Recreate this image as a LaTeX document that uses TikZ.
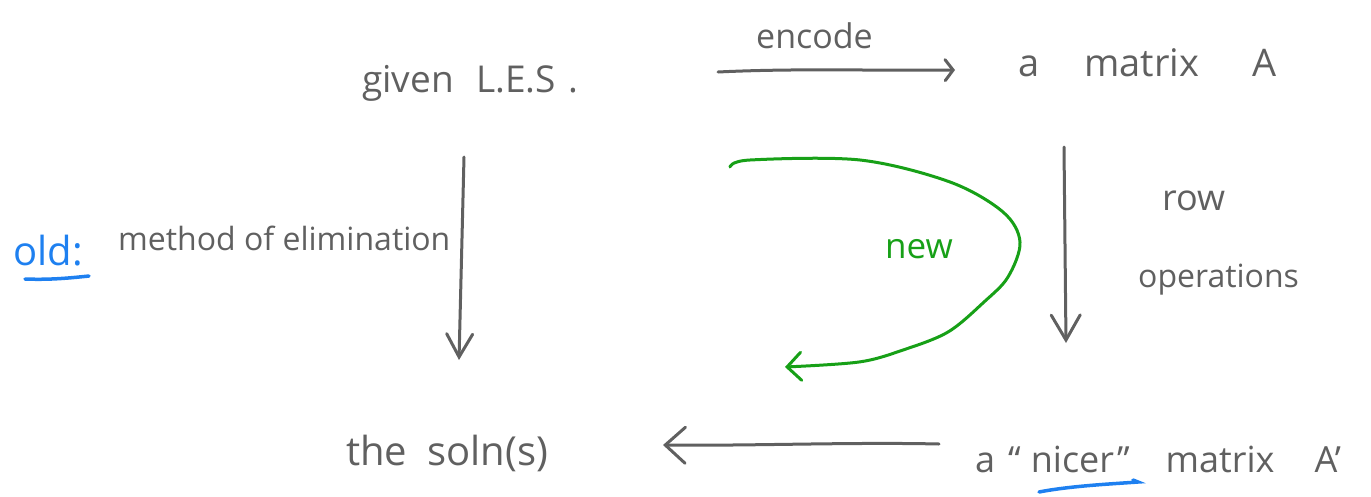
\documentclass[tikz,border=0pt]{standalone}
\usepackage{fontspec}
\setmainfont{Open Sans}
\usetikzlibrary{arrows.meta}
\definecolor{ink}{HTML}{606060}
\definecolor{inkblue}{HTML}{1E80F0}
\definecolor{inkgreen}{HTML}{17A017}
\begin{document}
\begin{tikzpicture}[x=1pt,y=-1pt,
  lbl/.style={inner sep=0pt, anchor=base west, text=ink},
  fs/.style={font=\fontsize{#1}{#1}\selectfont},
  arr/.style={draw=ink, line width=3pt, line cap=round},
  garr/.style={draw=inkgreen, line width=3pt, line cap=round},
  bline/.style={draw=inkblue, line width=3.5pt, line cap=round}]
\useasboundingbox (0,0) rectangle (1371,496);
% nodes
\node[lbl, fs=37] (les) at (362,92) {given\hspace{0.6em}L.E.S\hspace{0.35em}.};
\node[lbl, fs=34] (enc) at (756,48) {encode};
\node[lbl, fs=38] (matA) at (1018,76) {a\hspace{45pt}matrix\hspace{53pt}A};
\node[lbl, fs=40, text=inkblue] (old) at (13,265) {old:};
\node[lbl, fs=32] (meth) at (118,250) {method of elimination};
\node[lbl, fs=35, text=inkgreen] (new) at (885,258) {new};
\node[lbl, fs=36] (row) at (1162,210) {row};
\node[lbl, fs=32] (ops) at (1138,287) {operations};
\node[lbl, fs=40] (soln) at (346,465) {the\hspace{0.5em}soln(s)};
\node[lbl, fs=36] (nicer) at (975,472) {a\hspace{13pt}``\hspace{10pt}nicer\hspace{3pt}''\hspace{36pt}matrix\hspace{40pt}A'};
% connector ends
\coordinate (e1) at (718,72);   \coordinate (e2) at (955,70);
\coordinate (l1) at (464,157);  \coordinate (l2) at (459,360);
\coordinate (r1) at (1064,147); \coordinate (r2) at (1066,343);
\coordinate (b1) at (939,444);  \coordinate (b2) at (663,445);
\coordinate (g1) at (730,167);  \coordinate (g2) at (785,367);
\coordinate (u1) at (1039,492); \coordinate (u2) at (1138,482);
\coordinate (o1) at (25,279);   \coordinate (o2) at (89,276);
% arrows
\draw[arr, -{Straight Barb[length=8pt,width=21pt,line cap=round]}] (e1) .. controls (800,68) and (880,71) .. (e2);
\draw[arr, -{Straight Barb[length=23pt,width=26pt,line cap=round]}] (l1) -- (l2);
\draw[arr, -{Straight Barb[length=25pt,width=29pt,line cap=round]}] (r1) -- (r2);
\draw[arr, -{Straight Barb[length=20pt,width=36pt,line cap=round]}] (b1) .. controls (850,442) and (750,446) .. (b2);
\draw[garr, -{Straight Barb[length=14pt,width=28pt,line cap=round]}] plot[smooth, tension=0.55] coordinates {(g1) (750,160) (860,160) (950,182) (1003,212) (1020,242) (1008,277) (984,302) (948,332) (903,350) (859,362) (g2)};
% underlines
\draw[bline] (o1) .. controls (50,280) and (70,278) .. (o2);
\draw[bline] (u1) .. controls (1070,486) and (1110,484) .. (u2) -- (1133,480);
\end{tikzpicture}
\end{document}
